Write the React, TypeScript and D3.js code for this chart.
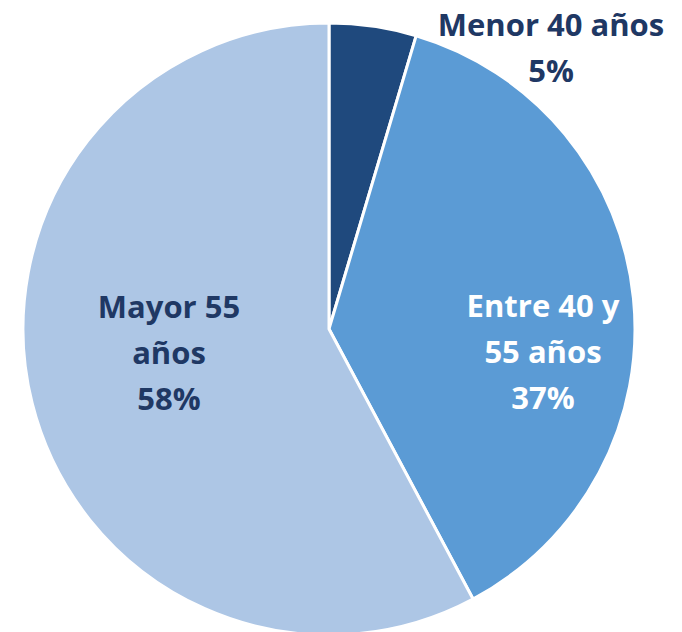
import React from "react";
import * as d3 from "d3";

const categories = ["Menor 40 años", "Entre 40 y 55 años", "Mayor 55 años"];
const values = [4.6, 37.6, 57.8];
const percentLabels = ["5%", "37%", "58%"];
const colors = ["#1F497D", "#5B9BD5", "#ADC6E5"];

const W = 682, H = 632;
const cx = 329, cy = 329, R = 306;

export default function App() {
  const pie = d3.pie<number>().sort(null).value(d => d);
  const arcs = pie(values);
  const arc = d3.arc<d3.PieArcDatum<number>>().innerRadius(0).outerRadius(R);
  const font = "'Open Sans', sans-serif";
  const fs = 31;
  return (
    <svg width={W} height={H} style={{ position: "absolute", left: 0, top: 0 }}>
      <rect width={W} height={H} fill="#fff" />
      <g transform={`translate(${cx},${cy})`}>
        {arcs.map((a, i) => (
          <path key={i} d={arc(a) || ""} fill={colors[i]} stroke="#fff" strokeWidth={3} strokeLinejoin="round" />
        ))}
      </g>
      <g fontFamily={font} fontWeight="bold" fontSize={fs} textAnchor="middle">
        <text x={551} y={36} fill="#1F3864">{categories[0]}</text>
        <text x={551} y={82} fill="#1F3864">{percentLabels[0]}</text>
        <text x={543} y={317} fill="#fff">Entre 40 y</text>
        <text x={543} y={363} fill="#fff">55 años</text>
        <text x={543} y={409} fill="#fff">{percentLabels[1]}</text>
        <text x={169} y={318} fill="#1F3864">Mayor 55</text>
        <text x={169} y={364} fill="#1F3864">años</text>
        <text x={169} y={410} fill="#1F3864">{percentLabels[2]}</text>
      </g>
    </svg>
  );
}
